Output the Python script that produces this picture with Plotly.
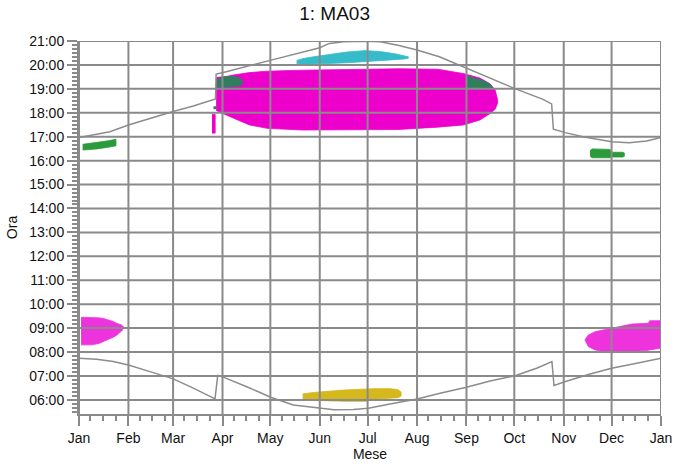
import plotly.graph_objects as go

# month starts (day of year) and labels
month_days = [0, 31, 59, 90, 120, 151, 181, 212, 243, 273, 304, 334, 365]
month_names = ["Jan", "Feb", "Mar", "Apr", "May", "Jun", "Jul", "Aug", "Sep", "Oct", "Nov", "Dec", "Jan"]
hour_ticks = list(range(6, 22))
hour_labels = [f"{h:02d}:00" for h in hour_ticks]

# sunset (upper curve), with daylight-saving jumps
sunset_day = [0, 9, 19.4, 31, 44.5, 59, 71.7, 85.6, 86, 90.5, 120.5, 151, 157, 166, 180, 189,
              200, 212, 226, 243, 258, 273, 291, 296.4, 297.5, 305, 316, 334, 345, 356, 365]
sunset_hour = [16.97, 17.07, 17.21, 17.49, 17.77, 18.05, 18.28, 18.58, 19.62, 19.68, 20.2, 20.72, 20.9,
               20.97, 20.99, 20.97, 20.82, 20.62, 20.34, 19.86, 19.44, 19.02, 18.56, 18.37, 17.31,
               17.17, 17.0, 16.79, 16.75, 16.82, 16.97]

# sunrise (lower curve)
sunrise_day = [0, 11.1, 21.5, 31, 44.5, 59.1, 71.7, 85.3, 87, 90.5, 105.2, 120.6, 134.4, 151, 160,
               172, 181.5, 195, 212, 226.4, 243, 257.8, 273, 287, 296.6, 297.9, 304.6, 320.5, 334,
               349.8, 365]
sunrise_hour = [7.74, 7.70, 7.60, 7.46, 7.18, 6.88, 6.49, 6.04, 7.02, 6.95, 6.55, 6.10, 5.79, 5.64,
                5.59, 5.60, 5.65, 5.83, 6.04, 6.28, 6.53, 6.79, 7.0, 7.32, 7.60, 6.60, 6.76, 7.08,
                7.32, 7.53, 7.74]

# shadow periods: day, upper hour, lower hour
evening_day = [86, 86.5, 92.5, 97, 107, 118, 140, 170, 200, 225, 241, 251.5, 258, 261, 262.5]
evening_top = [19.45, 19.48, 19.52, 19.58, 19.68, 19.74, 19.78, 19.82, 19.84, 19.82, 19.64, 19.45,
               19.20, 18.95, 18.55]
evening_bot = [18.10, 18.10, 17.91, 17.77, 17.49, 17.35, 17.28, 17.28, 17.30, 17.40, 17.49, 17.70,
               17.98, 18.15, 18.40]

sliver_day = [83.4, 85.4]
sliver_top = [17.93, 17.93]
sliver_bot = [17.15, 17.15]

teal_a_day = [86.3, 90, 97, 101, 102.5]
teal_a_top = [19.38, 19.50, 19.52, 19.45, 19.32]
teal_a_bot = [19.07, 19.07, 19.09, 19.13, 19.22]

teal_b_day = [242.7, 250, 256, 259]
teal_b_top = [19.55, 19.42, 19.27, 19.12]
teal_b_bot = [19.00, 19.00, 19.00, 19.03]

cyan_day = [136.5, 140, 147, 157, 168, 180, 190, 198, 204, 206.5]
cyan_top = [20.18, 20.26, 20.34, 20.45, 20.54, 20.60, 20.55, 20.47, 20.40, 20.34]
cyan_bot = [20.06, 20.03, 20.04, 20.06, 20.09, 20.14, 20.18, 20.22, 20.25, 20.28]

yellow_day = [140.3, 147, 166, 180, 185, 195, 200, 202]
yellow_top = [6.25, 6.31, 6.41, 6.46, 6.47, 6.47, 6.43, 6.33]
yellow_bot = [6.02, 5.98, 5.94, 5.94, 6.03, 6.06, 6.09, 6.16]

jan_am_day = [1.3, 8, 12.5, 15.3, 19.4, 21.5, 23.6, 25.7, 26.8, 27.8]
jan_am_top = [9.45, 9.45, 9.43, 9.40, 9.34, 9.28, 9.20, 9.16, 9.13, 9.06]
jan_am_bot = [8.30, 8.30, 8.36, 8.44, 8.55, 8.62, 8.70, 8.81, 8.88, 8.98]

dec_am_day = [317.3, 319.4, 323.6, 334, 340.3, 346.8, 357, 358, 365]
dec_am_top = [8.51, 8.71, 8.85, 8.99, 9.09, 9.17, 9.20, 9.31, 9.31]
dec_am_bot = [8.51, 8.23, 8.09, 7.97, 7.99, 8.02, 8.07, 8.09, 8.16]

jan_pm_day = [2.3, 11.1, 17.4, 23.2]
jan_pm_top = [16.68, 16.75, 16.82, 16.89]
jan_pm_bot = [16.44, 16.49, 16.55, 16.62]

dec_pm_day = [320.5, 322, 333, 334.5, 341, 342]
dec_pm_top = [16.42, 16.49, 16.47, 16.35, 16.35, 16.32]
dec_pm_bot = [16.18, 16.12, 16.12, 16.15, 16.15, 16.18]

blobs = [
    (evening_day, evening_top, evening_bot, "#EE00CC"),
    (sliver_day, sliver_top, sliver_bot, "#EE00CC"),
    (teal_a_day, teal_a_top, teal_a_bot, "#2F7F5F"),
    (teal_b_day, teal_b_top, teal_b_bot, "#2F7F5F"),
    (cyan_day, cyan_top, cyan_bot, "#36BCC8"),
    (yellow_day, yellow_top, yellow_bot, "#D4B81C"),
    (jan_am_day, jan_am_top, jan_am_bot, "#EE33DD"),
    (dec_am_day, dec_am_top, dec_am_bot, "#EE33DD"),
    (jan_pm_day, jan_pm_top, jan_pm_bot, "#2A9A3A"),
    (dec_pm_day, dec_pm_top, dec_pm_bot, "#2A9A3A"),
]

fig = go.Figure()
for days, top, bot, color in blobs:
    fig.add_trace(go.Scatter(x=days + days[::-1], y=top + bot[::-1], mode="lines",
                             fill="toself", fillcolor=color, line=dict(width=0.8, color=color),
                             hoverinfo="skip", showlegend=False))

fig.add_trace(go.Scatter(x=[85.3], y=[18.21], mode="markers",
                         marker=dict(size=3, color="#2F7F5F", symbol="square"), showlegend=False))

line_col = "#8C8C8C"
fig.add_trace(go.Scatter(x=sunset_day, y=sunset_hour, mode="lines",
                         line=dict(color=line_col, width=1.5), showlegend=False))
fig.add_trace(go.Scatter(x=sunrise_day, y=sunrise_hour, mode="lines",
                         line=dict(color=line_col, width=1.5), showlegend=False))

# grid on top of the shaded areas
grid_col = "#8A8A8A"
for d in month_days:
    fig.add_shape(type="line", xref="x", yref="paper", x0=d, x1=d, y0=0, y1=1,
                  line=dict(color=grid_col, width=2), layer="above")
for h in hour_ticks:
    fig.add_shape(type="line", xref="paper", yref="y", x0=0, x1=1, y0=h, y1=h,
                  line=dict(color=grid_col, width=2), layer="above")

x_minor = [m + k for m in month_days[:-1] for k in (7, 15, 23)]
y_minor = [5.5 + i / 6 for i in range(int((21 - 5.5) * 6) + 1)]

font = "Liberation Sans, Arial, sans-serif"
fig.update_layout(
    width=676, height=466,
    margin=dict(l=79, r=15, t=41, b=52),
    paper_bgcolor="white", plot_bgcolor="white",
    font=dict(family=font, size=14, color="#111"),
    title=dict(text="1: MA03", x=0.495, xref="container", y=0.972, yref="container",
               xanchor="center", yanchor="middle", font=dict(size=19, color="#111")),
    xaxis=dict(range=[0, 365], tickmode="array", tickvals=month_days, ticktext=month_names,
               showgrid=False, zeroline=False, showline=True, linecolor=grid_col, linewidth=2,
               ticks="outside", ticklen=10, tickwidth=2, tickcolor=grid_col, automargin=False,
               minor=dict(tickmode="array", tickvals=x_minor, ticks="outside", ticklen=5,
                          tickwidth=1.5, tickcolor=grid_col, showgrid=False),
               title=dict(text="Mese", standoff=1, font=dict(size=14))),
    yaxis=dict(range=[5.41, 21], tickmode="array", tickvals=hour_ticks, ticktext=hour_labels,
               showgrid=False, zeroline=False, showline=True, linecolor=grid_col, linewidth=2,
               ticks="outside", ticklen=10, tickwidth=2, tickcolor=grid_col, automargin=False,
               minor=dict(tickmode="array", tickvals=y_minor, ticks="outside", ticklen=5,
                          tickwidth=1.5, tickcolor=grid_col, showgrid=False),
               title=dict(text="Ora", standoff=8, font=dict(size=14))),
)

# drop the default page margin so the figure sits at the window origin
fig.write_html("out.html", config={"displayModeBar": False},
               post_script="document.body.style.margin='0';")
